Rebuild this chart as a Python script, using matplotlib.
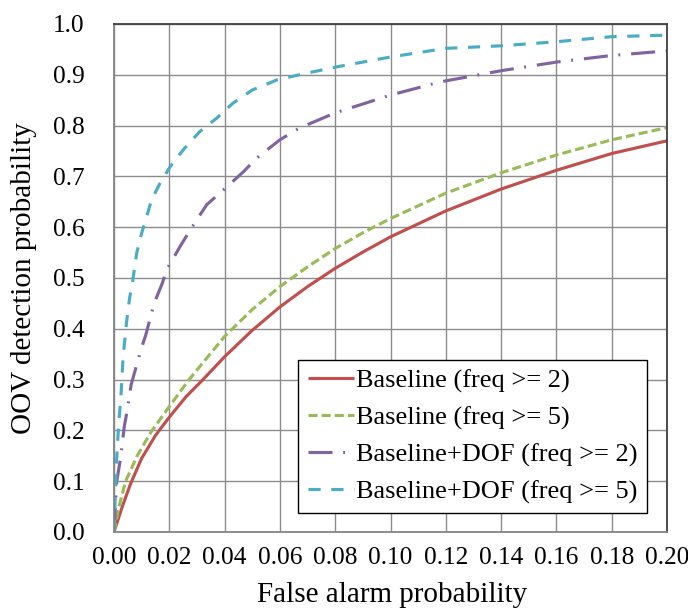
import matplotlib
matplotlib.use("Agg")
import matplotlib.pyplot as plt
import numpy as np

plt.rcParams['font.family'] = ['Liberation Serif', 'DejaVu Serif']

# Baseline (freq >= 2)
x_b2 = [0.0, 0.003, 0.006, 0.010, 0.015, 0.020, 0.026, 0.032, 0.040, 0.050, 0.060, 0.070, 0.080,
        0.090, 0.100, 0.120, 0.140, 0.160, 0.180, 0.200]
y_b2 = [0.0, 0.050, 0.095, 0.145, 0.190, 0.226, 0.266, 0.299, 0.345, 0.397, 0.443, 0.483, 0.519,
        0.551, 0.581, 0.632, 0.675, 0.712, 0.745, 0.770]

# Baseline (freq >= 5)
x_b5 = [0.0, 0.0018, 0.0042, 0.0084, 0.0133, 0.020, 0.027, 0.040, 0.050, 0.060, 0.070, 0.080,
        0.090, 0.100, 0.120, 0.140, 0.160, 0.180, 0.200]
y_b5 = [0.0, 0.050, 0.100, 0.150, 0.196, 0.247, 0.299, 0.385, 0.438, 0.483, 0.522, 0.558,
        0.589, 0.617, 0.667, 0.707, 0.742, 0.772, 0.796]

# Baseline+DOF (freq >= 2)
x_d2 = [0.0, 0.0005, 0.001, 0.0024, 0.0037, 0.0048, 0.0062, 0.0097, 0.0115, 0.0145, 0.0175, 0.019,
        0.0239, 0.0275, 0.0335, 0.0395, 0.0468, 0.0516, 0.060, 0.067, 0.080, 0.100, 0.118, 0.140,
        0.160, 0.180, 0.200]
y_d2 = [0.0, 0.050, 0.100, 0.146, 0.207, 0.240, 0.290, 0.358, 0.388, 0.450, 0.490, 0.516,
        0.562, 0.594, 0.644, 0.673, 0.709, 0.736, 0.772, 0.795, 0.825, 0.860, 0.886, 0.908,
        0.925, 0.938, 0.947]

# Baseline+DOF (freq >= 5)
x_d5 = [0.0, 0.0009, 0.0013, 0.0017, 0.0025, 0.0033, 0.0045, 0.0057, 0.0064, 0.0082, 0.010, 0.0118,
        0.0136, 0.0166, 0.0203, 0.025, 0.031, 0.037, 0.043, 0.050, 0.059, 0.067, 0.080, 0.100, 0.120,
        0.140, 0.160, 0.180, 0.200]
y_d5 = [0.0, 0.138, 0.175, 0.214, 0.266, 0.345, 0.411, 0.463, 0.480, 0.549, 0.588, 0.621,
        0.654, 0.686, 0.719, 0.752, 0.788, 0.814, 0.844, 0.870, 0.890, 0.900, 0.915, 0.935, 0.952,
        0.957, 0.965, 0.975, 0.978]

labels = ["Baseline (freq >= 2)", "Baseline (freq >= 5)",
          "Baseline+DOF (freq >= 2)", "Baseline+DOF (freq >= 5)"]
x_ticks = [0.00, 0.02, 0.04, 0.06, 0.08, 0.10, 0.12, 0.14, 0.16, 0.18, 0.20]
y_ticks = [0.0, 0.1, 0.2, 0.3, 0.4, 0.5, 0.6, 0.7, 0.8, 0.9, 1.0]

fig = plt.figure(figsize=(6.88, 6.10), dpi=100)
ax = fig.add_axes([0.1657, 0.1279, 0.9695 - 0.1657, 0.9607 - 0.1279])

lw = 2.25
ax.plot(x_b2, y_b2, color='#C0504D', lw=lw, label=labels[0], solid_capstyle='butt')
ax.plot(x_b5, y_b5, color='#9BBB59', lw=lw, ls=(0, (2.9, 1.3)), label=labels[1])
ax.plot(x_d2, y_d2, color='#8064A2', lw=lw, ls=(0, (7.7, 3.4, 0.6, 3.5)), label=labels[2])
ax.plot(x_d5, y_d5, color='#4BACC6', lw=lw, ls=(0, (3.9, 3.4)), label=labels[3])

ax.set_xlim(0, 0.2)
ax.set_ylim(0, 1.0)
ax.set_xticks(x_ticks)
ax.set_yticks(y_ticks)
ax.set_xticklabels([f"{v:.2f}" for v in x_ticks])
ax.set_yticklabels([f"{v:.1f}" for v in y_ticks])
ax.tick_params(axis='both', length=0, labelsize=18.3)
ax.tick_params(axis='x', pad=11)
ax.tick_params(axis='y', pad=21)
ax.grid(True, color='#8C8C8C', lw=1.0)
ax.set_axisbelow(True)
for s in ['left', 'bottom']:
    ax.spines[s].set_color('#868686')
    ax.spines[s].set_linewidth(1.3)
for s in ['top', 'right']:
    ax.spines[s].set_color('#404040')
    ax.spines[s].set_linewidth(1.3)

ax.set_xlabel("False alarm probability", fontsize=21)
ax.set_ylabel("OOV detection probability", fontsize=21)
ax.xaxis.set_label_coords(0.503, -0.098)
ax.yaxis.set_label_coords(-0.139, 0.5)

leg = ax.legend(loc='lower right', bbox_to_anchor=(0.964, 0.037), fontsize=19,
                frameon=True, fancybox=False, edgecolor='black', framealpha=1,
                handlelength=1.75, handletextpad=0.1, borderpad=0.35, labelspacing=0.5,
                borderaxespad=0)
leg.get_frame().set_linewidth(1.0)

fig.savefig("out.png", dpi=100)
